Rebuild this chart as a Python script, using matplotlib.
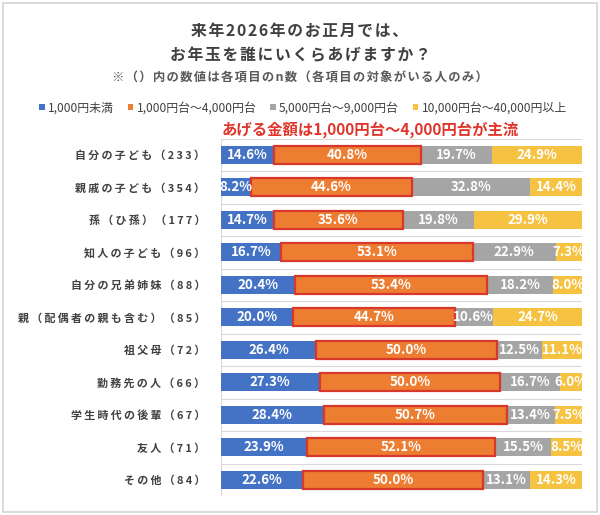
import matplotlib
matplotlib.use("Agg")
import matplotlib.pyplot as plt
from matplotlib.patches import Rectangle
import numpy as np

plt.rcParams['font.family'] = ['Noto Sans CJK JP', 'DejaVu Sans']

# ---- data ----
categories = ["自分の子ども（233）", "親戚の子ども（354）", "孫（ひ孫）（177）", "知人の子ども（96）",
              "自分の兄弟姉妹（88）", "親（配偶者の親も含む）（85）", "祖父母（72）", "勤務先の人（66）",
              "学生時代の後輩（67）", "友人（71）", "その他（84）"]
series_names = ["1,000円未満", "1,000円台～4,000円台", "5,000円台～9,000円台", "10,000円台～40,000円以上"]
under_1000 = [14.6, 8.2, 14.7, 16.7, 20.4, 20.0, 26.4, 27.3, 28.4, 23.9, 22.6]
r1000_4000 = [40.8, 44.6, 35.6, 53.1, 53.4, 44.7, 50.0, 50.0, 50.7, 52.1, 50.0]
r5000_9000 = [19.7, 32.8, 19.8, 22.9, 18.2, 10.6, 12.5, 16.7, 13.4, 15.5, 13.1]
r10000_40000 = [24.9, 14.4, 29.9, 7.3, 8.0, 24.7, 11.1, 6.0, 7.5, 8.5, 14.3]

title_line1 = "来年2026年のお正月では、"
title_line2 = "お年玉を誰にいくらあげますか？"
subtitle = "※（）内の数値は各項目のn数（各項目の対象がいる人のみ）"
highlight = "あげる金額は1,000円台～4,000円台が主流"

colors = ["#4472C4", "#ED7D31", "#A5A5A5", "#F5C242"]
TXT = "#404040"
HAIR = "\u200a"
THIN = "\u2009"


def spaced(s, sp):
    return sp.join(list(s))


W, H = 600, 515
fig = plt.figure(figsize=(W / 100, H / 100), dpi=100)
fig.patch.set_facecolor("white")

def fy(px):
    return 1 - px / H

# border
fig.patches.append(Rectangle((3 / W, 3 / H), 594 / W, 509 / H, transform=fig.transFigure,
                             fill=False, edgecolor="#D4D4D4", linewidth=1.2))

ax = fig.add_axes([221 / W, 1 - 496 / H, (582 - 221) / W, (496 - 138.5) / H])

series = [under_1000, r1000_4000, r5000_9000, r10000_40000]
n = len(categories)
y = np.arange(n)
left = np.zeros(n)
bh = 0.56
for k, vals in enumerate(series):
    vals = np.array(vals)
    if k == 1:
        ax.barh(y, vals, left=left, height=bh, color=colors[k], edgecolor="#D8372B",
                linewidth=1.6, zorder=3)
    else:
        ax.barh(y, vals, left=left, height=bh, color=colors[k], linewidth=0, zorder=2)
    for i in range(n):
        ax.text(left[i] + vals[i] / 2, y[i], f"{vals[i]:.1f}%", ha="center", va="center",
                color="white", fontsize=9.6, fontweight="bold", clip_on=True, zorder=4)
    left = left + vals

ax.set_xlim(0, 100)
ax.set_ylim(n - 0.5, -0.5)
for b in np.arange(-0.5, n, 1.0):
    ax.axhline(b, color="#D9D9D9", linewidth=0.8, zorder=0)
ax.axvline(0, color="#D9D9D9", linewidth=0.8, zorder=1)
for s in ax.spines.values():
    s.set_visible(False)
ax.set_xticks([])
ax.set_yticks(y)
ax.set_yticklabels([spaced(c, THIN) for c in categories], fontsize=7.9, fontweight="bold", color=TXT)
ax.tick_params(axis="y", length=0, pad=11.5)

# titles
fig.text(0.5, fy(31), spaced(title_line1, HAIR), ha="center", va="center", fontsize=11.4,
         fontweight="bold", color=TXT)
fig.text(0.5, fy(55), spaced(title_line2, HAIR), ha="center", va="center", fontsize=11.4,
         fontweight="bold", color=TXT)
fig.text(0.5, fy(78), spaced(subtitle, HAIR), ha="center", va="center", fontsize=8.9,
         fontweight="bold", color="#595959")

# legend
handles = [Rectangle((0, 0), 1, 1, facecolor=c, edgecolor="none") for c in colors]
fig.legend(handles, series_names, loc="center", bbox_to_anchor=(303 / W, fy(108)), ncol=4,
           frameon=False, fontsize=8.6, handlelength=0.45, handleheight=0.45,
           handletextpad=0.3, columnspacing=1.15, labelcolor=TXT, borderpad=0, borderaxespad=0)

# highlight text
fig.text(222 / W, fy(129.5), highlight, ha="left", va="center", fontsize=11.1,
         fontweight="bold", color="#E0352B")

fig.savefig("out.png", dpi=100, facecolor="white")
